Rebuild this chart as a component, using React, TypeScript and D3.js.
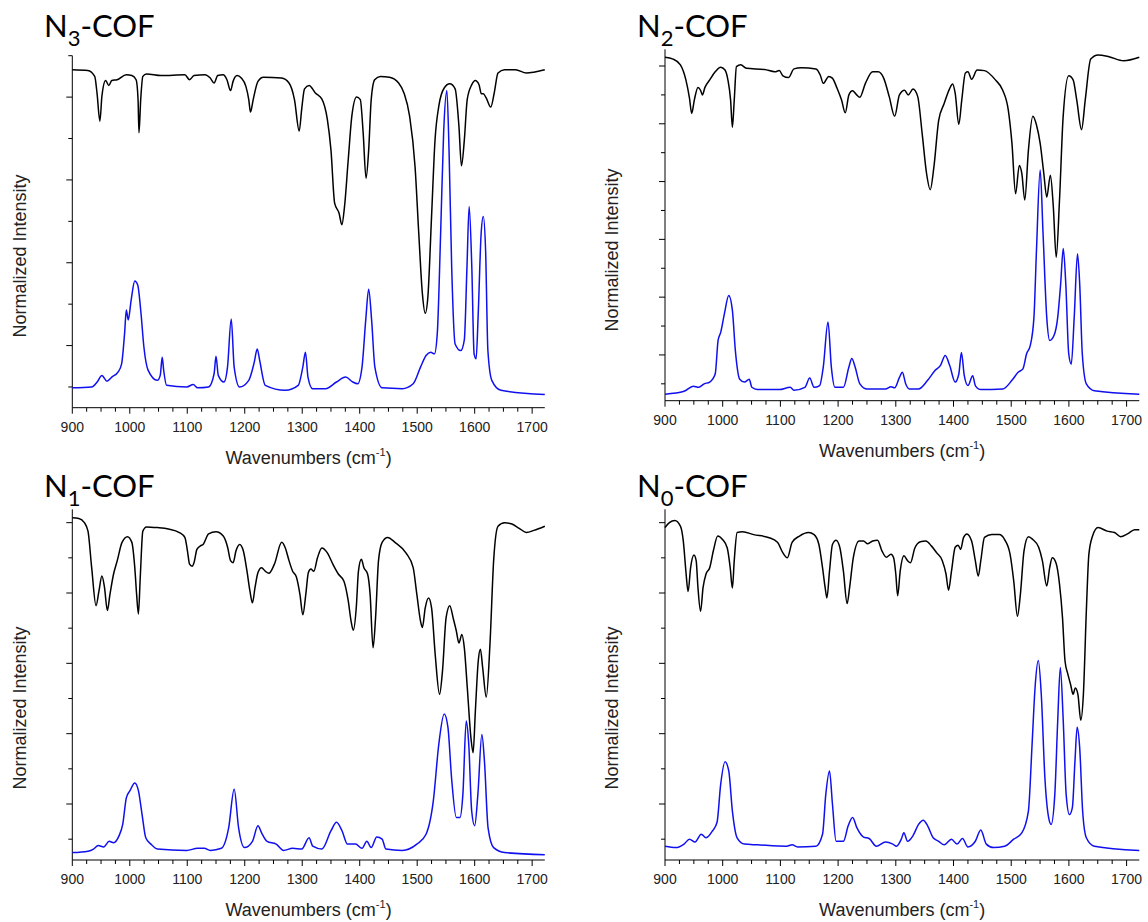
import React from "react";
import * as d3 from "d3";

type Pt = [number, number];

const X_TICKS = [900, 1000, 1100, 1200, 1300, 1400, 1500, 1600, 1700];
const X_DOMAIN: [number, number] = [900, 1722];
const TITLES = ["N", "N", "N", "N"];
const TITLE_SUBS = ["3", "2", "1", "0"];
const TITLE_TAIL = "-COF";
const X_LABEL = "Wavenumbers (cm";
const X_LABEL_SUP = "-1";
const Y_LABEL = "Normalized Intensity";

// N3-COF experimental (black)
const N3_EXP: Pt[] = [
  [900, 4.33], [927, 4.32], [939, 4.25], [943, 4.05], [948, 3.71], [951.5, 4.01], [958, 4.2], [963.5, 4.14],
  [968.7, 4.2], [978, 4.21], [994, 4.27], [1003.6, 4.26], [1011, 4.21], [1014.4, 3.97], [1016, 3.57], [1019, 3.97],
  [1022.7, 4.25], [1029, 4.28], [1054.5, 4.26], [1095.8, 4.27], [1104, 4.21], [1111.7, 4.26], [1130.8, 4.27],
  [1140, 4.23], [1146.7, 4.17], [1153, 4.26], [1162.6, 4.27], [1169, 4.21], [1175.3, 4.08], [1179.7, 4.19],
  [1186.7, 4.26], [1194, 4.23], [1202, 4.13], [1207, 3.97], [1210, 3.82], [1214.7, 3.97], [1223, 4.19],
  [1232.5, 4.24], [1264, 4.23], [1277, 4.17], [1286.5, 3.97], [1294.8, 3.59], [1299, 3.85], [1304, 4.1],
  [1312, 4.14], [1322.8, 4.05], [1334, 3.98], [1343.7, 3.73], [1350, 3.36], [1356.4, 2.72], [1364, 2.6],
  [1369, 2.46], [1373.6, 2.68], [1380, 3.24], [1386.3, 3.77], [1394.6, 4.0], [1401, 3.97], [1406, 3.57],
  [1411, 3.02], [1415.6, 3.36], [1420, 3.97], [1426, 4.21], [1436, 4.25], [1451.8, 4.24], [1467.7, 4.17],
  [1477, 4.05], [1486.8, 3.77], [1496.3, 3.16], [1502.7, 2.36], [1509, 1.63], [1514, 1.39], [1518.6, 1.59],
  [1525, 2.56], [1531, 3.48], [1537.6, 3.89], [1547, 4.11], [1556.7, 4.16], [1566, 4.1], [1572.6, 3.65],
  [1577, 3.17], [1582, 3.48], [1587, 3.97], [1595, 4.15], [1601, 4.2], [1607.6, 4.15], [1611.6, 4.04],
  [1615, 4.04], [1620, 3.99], [1628, 3.88], [1634, 4.05], [1640.6, 4.29], [1652, 4.33], [1671, 4.33],
  [1690, 4.29], [1703, 4.3], [1722, 4.33],
];

// N3-COF calculated (blue)
const N3_CALC: Pt[] = [
  [900, 0.49], [933.7, 0.5], [943.2, 0.56], [951.5, 0.64], [960.4, 0.57], [968.7, 0.62], [979.5, 0.68],
  [985.8, 0.78], [991, 1.15], [994, 1.43], [997.3, 1.31], [1002.4, 1.55], [1008.7, 1.78], [1013.8, 1.73],
  [1019.5, 1.39], [1024.6, 0.98], [1032, 0.7], [1048, 0.58], [1053, 0.64], [1056.4, 0.86], [1059, 0.7],
  [1064, 0.52], [1099, 0.5], [1110.4, 0.53], [1118, 0.49], [1137, 0.5], [1146.7, 0.66], [1150, 0.87],
  [1154, 0.64], [1163.8, 0.56], [1170, 0.74], [1176.5, 1.32], [1181.6, 0.74], [1191, 0.5], [1207, 0.58],
  [1216.6, 0.8], [1221.7, 0.96], [1226, 0.82], [1235.7, 0.52], [1270.6, 0.46], [1293, 0.52], [1301, 0.74],
  [1305.6, 0.92], [1310, 0.62], [1318, 0.48], [1340.6, 0.48], [1359.6, 0.56], [1375.5, 0.62], [1388, 0.56],
  [1396.5, 0.54], [1404, 0.74], [1410.5, 1.31], [1415.6, 1.68], [1420.7, 1.31], [1426.4, 0.74], [1439, 0.49],
  [1474, 0.48], [1493, 0.54], [1505.8, 0.74], [1515.4, 0.88], [1523.6, 0.92], [1530, 0.9], [1535, 1.15],
  [1540.8, 2.36], [1546, 3.57], [1551.6, 4.08], [1555.4, 3.36], [1560, 1.95], [1566, 1.02], [1575.8, 0.94],
  [1582, 1.07], [1586.6, 1.95], [1590.4, 2.68], [1595, 1.95], [1599, 0.9], [1602.5, 0.84], [1606, 1.35],
  [1611.3, 2.36], [1615, 2.56], [1619, 2.15], [1623, 0.94], [1629.8, 0.58], [1645.7, 0.46], [1722, 0.41],
];

// N2-COF experimental (black)
const N2_EXP: Pt[] = [
  [900, 6.15], [914, 6.12], [926.7, 6.02], [936.2, 5.76], [942.5, 5.44], [946.3, 5.18], [950.8, 5.41],
  [957.1, 5.63], [961.6, 5.58], [964.8, 5.5], [969.2, 5.63], [977.5, 5.76], [987, 5.9], [996.5, 5.98],
  [1004, 5.93], [1009, 5.76], [1013.7, 5.41], [1016.8, 4.94], [1020, 5.41], [1023.8, 5.99], [1031.4, 6.02],
  [1041, 5.96], [1072.7, 5.94], [1090.5, 5.9], [1098, 5.92], [1104.4, 5.83], [1114, 5.8], [1123.5, 5.95],
  [1136.2, 5.97], [1161.6, 5.95], [1169.2, 5.84], [1174.3, 5.7], [1183.8, 5.82], [1190, 5.79], [1198.4, 5.61],
  [1206, 5.41], [1212.4, 5.19], [1218.7, 5.5], [1225, 5.57], [1231.4, 5.51], [1237.7, 5.46], [1247.3, 5.7],
  [1260, 5.9], [1269.5, 5.9], [1279, 5.79], [1288.6, 5.47], [1298, 5.13], [1306.3, 5.5], [1315.2, 5.58],
  [1321.6, 5.5], [1329.8, 5.6], [1338, 5.47], [1345.7, 4.83], [1353.3, 4.14], [1359.7, 3.86], [1366, 4.25],
  [1374.3, 5.06], [1383.8, 5.35], [1393.3, 5.61], [1398.4, 5.69], [1402.9, 5.53], [1409.2, 4.99],
  [1414.3, 5.41], [1420.6, 5.88], [1425, 5.9], [1431.4, 5.77], [1440.9, 5.93], [1453.6, 5.92], [1472.6, 5.76],
  [1485.3, 5.58], [1494.9, 5.24], [1501.3, 4.66], [1507.6, 3.79], [1514, 4.28], [1518.4, 4.14], [1523.5, 3.68],
  [1529.8, 4.54], [1537.5, 5.13], [1543.8, 4.98], [1550.2, 4.66], [1556.5, 4.14], [1561.6, 3.73],
  [1567.9, 4.11], [1573, 3.56], [1578, 2.69], [1583.7, 3.68], [1590, 5.12], [1599.6, 5.83], [1607.3, 5.76],
  [1613.6, 5.41], [1621.9, 4.9], [1628.3, 5.41], [1637.8, 6.12], [1650.5, 6.19], [1669.5, 6.16],
  [1694.9, 6.09], [1722, 6.15],
];

// N2-COF calculated (blue)
const N2_CALC: Pt[] = [
  [900, 0.32], [933, 0.37], [948.9, 0.46], [958.4, 0.44], [968, 0.5], [977.5, 0.53], [987, 0.67], [992, 1.25],
  [996.5, 1.39], [1002.9, 1.71], [1010.5, 2.03], [1016.8, 1.77], [1021.9, 1.08], [1029.5, 0.58], [1037.8, 0.53],
  [1046, 0.58], [1050.5, 0.44], [1060, 0.4], [1098, 0.4], [1117, 0.44], [1123.5, 0.39], [1142.5, 0.44],
  [1150.8, 0.6], [1158.4, 0.44], [1168, 0.47], [1174.3, 0.79], [1182.5, 1.57], [1188.3, 0.79], [1194.6, 0.44],
  [1209.2, 0.44], [1218.7, 0.79], [1223.8, 0.94], [1229.5, 0.79], [1237.7, 0.5], [1250.5, 0.41], [1282.2, 0.41],
  [1291.7, 0.45], [1298, 0.43], [1306.3, 0.61], [1311.4, 0.7], [1317.1, 0.5], [1323.5, 0.41], [1339.4, 0.41],
  [1355.2, 0.56], [1367.9, 0.73], [1377.5, 0.82], [1385.7, 0.99], [1393.3, 0.82], [1402.9, 0.53],
  [1409.2, 0.67], [1413.7, 1.04], [1418.7, 0.64], [1425, 0.47], [1433.3, 0.64], [1437.8, 0.47], [1447.3, 0.4],
  [1485.3, 0.41], [1501.3, 0.56], [1512, 0.7], [1520.3, 0.76], [1526.7, 1.02], [1533, 1.16], [1539.4, 1.65],
  [1543.8, 2.81], [1550.2, 4.2], [1555.2, 3.1], [1561.6, 1.65], [1566.7, 1.25], [1574.3, 1.34], [1580.6, 1.65],
  [1585.7, 2.23], [1590.2, 2.84], [1594.6, 2.23], [1599.7, 1.02], [1604.1, 0.84], [1609.2, 1.65],
  [1614.9, 2.75], [1618.7, 2.23], [1623.2, 1.02], [1630.2, 0.5], [1644.1, 0.38], [1722, 0.32],
];

// N1-COF experimental (black)
const N1_EXP: Pt[] = [
  [900, 5.07], [911.4, 5.06], [921, 5.0], [927.3, 4.88], [933.7, 4.36], [941.3, 3.82], [946.4, 4.03],
  [951.5, 4.24], [956, 4.08], [961, 3.75], [965.5, 3.98], [971.8, 4.27], [978.2, 4.46], [986.5, 4.72], [996, 4.8],
  [1003.6, 4.72], [1008.7, 4.36], [1011.9, 3.98], [1015, 3.7], [1018.2, 4.22], [1022.7, 4.88], [1029, 4.94],
  [1048, 4.93], [1067.2, 4.91], [1086.3, 4.86], [1095.8, 4.79], [1100.3, 4.6], [1104, 4.41], [1108.5, 4.38],
  [1111.7, 4.43], [1116.8, 4.62], [1123, 4.67], [1127.6, 4.69], [1137.1, 4.84], [1150, 4.87], [1162.6, 4.81],
  [1170.2, 4.65], [1175.3, 4.46], [1179.7, 4.43], [1184.8, 4.6], [1191.2, 4.69], [1197.5, 4.6], [1203.9, 4.31],
  [1209, 4.03], [1213.4, 3.86], [1217.9, 4.08], [1223, 4.29], [1229.3, 4.36], [1235.7, 4.31], [1242, 4.28],
  [1251.6, 4.41], [1264.3, 4.72], [1270.6, 4.64], [1277, 4.46], [1283.3, 4.31], [1289.7, 4.23], [1296, 3.98],
  [1301.1, 3.69], [1306.2, 3.98], [1310.7, 4.29], [1315.1, 4.34], [1320.2, 4.31], [1326.5, 4.5], [1334.2, 4.64],
  [1343.7, 4.57], [1353.3, 4.41], [1362.8, 4.27], [1372.4, 4.17], [1380, 3.89], [1385, 3.6], [1388.9, 3.47],
  [1394, 3.79], [1397.8, 4.31], [1402.9, 4.48], [1407.3, 4.36], [1413.7, 4.27], [1418.1, 3.98], [1423.2, 3.22],
  [1427.6, 3.65], [1432.7, 4.46], [1439, 4.72], [1448.6, 4.79], [1461.3, 4.72], [1480.4, 4.57], [1493, 4.36],
  [1499.4, 3.98], [1505.8, 3.6], [1509, 3.51], [1514, 3.79], [1519.8, 3.93], [1525, 3.79], [1531.3, 3.13],
  [1538.9, 2.56], [1544, 2.89], [1550.3, 3.65], [1556.7, 3.82], [1563, 3.63], [1568.1, 3.46], [1572.6, 3.29],
  [1577.7, 3.41], [1582, 3.22], [1587.2, 2.65], [1593.5, 1.94], [1597.3, 1.73], [1601.2, 2.32], [1606.2, 3.03],
  [1610, 3.2], [1613.9, 2.94], [1620.2, 2.52], [1626.6, 3.27], [1633, 4.46], [1640.6, 4.95], [1652, 5.0],
  [1664.8, 4.98], [1677.5, 4.92], [1690.2, 4.86], [1703, 4.89], [1722, 4.95],
];

// N1-COF calculated (blue)
const N1_CALC: Pt[] = [
  [900, 0.31], [927.3, 0.33], [936.9, 0.36], [945.1, 0.41], [954.7, 0.39], [964.2, 0.47], [971.8, 0.45],
  [981.4, 0.55], [987.7, 0.71], [994.1, 1.09], [1000.4, 1.19], [1008.7, 1.3], [1015, 1.19], [1021.4, 0.85],
  [1027.8, 0.52], [1036.7, 0.43], [1048, 0.36], [1099, 0.34], [1118, 0.37], [1129.5, 0.37], [1140.3, 0.34],
  [1159.4, 0.37], [1172, 0.66], [1181.6, 1.21], [1189.3, 0.66], [1199.4, 0.38], [1213.4, 0.47], [1223, 0.69],
  [1229.3, 0.59], [1238.8, 0.47], [1254.7, 0.43], [1267.5, 0.34], [1283.3, 0.37], [1299.2, 0.36],
  [1311.9, 0.52], [1318.3, 0.4], [1334.2, 0.36], [1350.1, 0.62], [1359.6, 0.74], [1369.2, 0.62], [1378.7, 0.43],
  [1392.7, 0.43], [1404.1, 0.37], [1412.4, 0.47], [1420, 0.38], [1429.6, 0.53], [1439, 0.5], [1445.5, 0.36],
  [1474, 0.34], [1499.4, 0.43], [1515.4, 0.57], [1528, 1.04], [1537.6, 1.85], [1547, 2.28], [1553.5, 2.09],
  [1559.8, 1.37], [1568.1, 0.81], [1574.5, 0.81], [1579.5, 1.14], [1585.3, 2.18], [1589.7, 1.85], [1594.8, 0.9],
  [1600, 0.69], [1605.6, 1.14], [1612.5, 1.99], [1617, 1.61], [1623.3, 0.66], [1633, 0.38], [1652, 0.31],
  [1722, 0.28],
];

// N0-COF experimental (black)
const N0_EXP: Pt[] = [
  [900, 4.93], [907.6, 5.0], [917.1, 5.03], [926.7, 4.95], [931.7, 4.74], [936.2, 4.31], [940, 4.02],
  [944.4, 4.36], [950.2, 4.54], [954, 4.46], [957.1, 4.08], [961.6, 3.74], [966, 4.08], [971.1, 4.27],
  [977.5, 4.36], [983.8, 4.6], [991.4, 4.81], [999.7, 4.76], [1007.9, 4.64], [1013, 4.36], [1016.8, 4.07],
  [1020, 4.46], [1025, 4.86], [1034.6, 4.87], [1053.6, 4.83], [1079, 4.79], [1094.9, 4.72], [1104.4, 4.57],
  [1112, 4.5], [1120.3, 4.72], [1133, 4.81], [1148.9, 4.86], [1158.4, 4.83], [1166.7, 4.69], [1173, 4.36],
  [1177.5, 4.08], [1180.6, 3.93], [1185.1, 4.31], [1190.2, 4.69], [1196.5, 4.75], [1202.9, 4.65],
  [1209.2, 4.31], [1215.6, 3.85], [1220, 4.08], [1226.3, 4.5], [1236.5, 4.74], [1244.1, 4.74], [1250.5, 4.7],
  [1260, 4.74], [1268.3, 4.75], [1275.9, 4.6], [1283.5, 4.51], [1291.7, 4.55], [1296.2, 4.5], [1300, 4.27],
  [1303.2, 3.96], [1307.6, 4.31], [1314, 4.53], [1320.3, 4.46], [1325.4, 4.43], [1333, 4.64], [1342.5, 4.73],
  [1352, 4.74], [1361.6, 4.67], [1371, 4.57], [1380.6, 4.46], [1387, 4.27], [1391.4, 4.04], [1396.5, 4.31],
  [1402.9, 4.65], [1408, 4.68], [1412.4, 4.62], [1417.5, 4.79], [1423.2, 4.84], [1431.4, 4.74], [1437.8, 4.46],
  [1442.9, 4.24], [1447.3, 4.46], [1453.7, 4.79], [1466.3, 4.83], [1479, 4.83], [1488.6, 4.76], [1498.1, 4.55],
  [1504.4, 4.17], [1510.8, 3.67], [1515.9, 3.98], [1522.2, 4.6], [1529.8, 4.8], [1537.5, 4.76], [1547.6, 4.65],
  [1554, 4.46], [1561.6, 4.1], [1566.7, 4.36], [1571.1, 4.5], [1577.5, 4.43], [1583.8, 4.12], [1588.9, 3.65],
  [1593.3, 3.03], [1598.4, 2.84], [1602.9, 2.7], [1607.3, 2.56], [1611.1, 2.65], [1615.6, 2.56], [1620.6, 2.19],
  [1625.1, 2.56], [1630.2, 3.74], [1634.6, 4.55], [1641, 4.81], [1650.5, 4.93], [1666.3, 4.88], [1679, 4.86],
  [1689.8, 4.8], [1701.3, 4.84], [1714, 4.9], [1722, 4.9],
];

// N0-COF calculated (blue)
const N0_CALC: Pt[] = [
  [900, 0.4], [919, 0.38], [933, 0.43], [942.5, 0.5], [952, 0.46], [962.9, 0.57], [971.1, 0.52], [982.5, 0.62],
  [990.2, 0.74], [996.5, 1.28], [1004.1, 1.6], [1010.5, 1.47], [1016.8, 0.9], [1025, 0.52], [1037.8, 0.43],
  [1060, 0.42], [1110.8, 0.4], [1120.3, 0.42], [1129.8, 0.39], [1161.6, 0.4], [1173, 0.57], [1178.7, 1.14],
  [1185.1, 1.47], [1190.2, 1.0], [1196.5, 0.47], [1209.2, 0.47], [1217.5, 0.69], [1225.1, 0.81], [1232.7, 0.66],
  [1244.1, 0.53], [1253.7, 0.51], [1266.3, 0.4], [1282.2, 0.46], [1294.9, 0.43], [1301.3, 0.4], [1309.5, 0.5],
  [1314, 0.59], [1320.3, 0.47], [1329.8, 0.55], [1339.4, 0.71], [1347.6, 0.77], [1355.2, 0.69], [1364.8, 0.52],
  [1374.3, 0.47], [1383.8, 0.42], [1396.5, 0.5], [1406, 0.43], [1415.6, 0.51], [1425, 0.39], [1437.8, 0.47],
  [1447.3, 0.63], [1456.8, 0.43], [1469.5, 0.38], [1488.6, 0.4], [1504.4, 0.5], [1518.4, 0.59], [1529.8, 0.9],
  [1536.2, 1.85], [1541.3, 2.65], [1547, 3.04], [1552.1, 2.56], [1558.4, 1.37], [1564.8, 0.81], [1569.2, 0.71],
  [1575.6, 1.14], [1580.6, 2.18], [1585.1, 2.94], [1590.2, 2.18], [1595.2, 1.14], [1600.9, 0.85], [1606, 0.95],
  [1610.5, 1.61], [1614.3, 2.09], [1618.7, 1.8], [1623.8, 0.9], [1630.2, 0.52], [1644.1, 0.4], [1722, 0.34],
];

const EXP_SERIES = [N3_EXP, N2_EXP, N1_EXP, N0_EXP];
const CALC_SERIES = [N3_CALC, N2_CALC, N1_CALC, N0_CALC];
const Y_DOMAINS: [number, number][] = [[0.25, 4.5], [0.208, 6.289], [0.204, 5.19], [0.204, 5.19]];
const Y_MAJOR_MAX = [4, 6, 5, 5];

// layout (pixel positions of each panel)
const LAYOUT = [
  { left: 72.3, right: 544.8, top: 55.7, bottom: 407.7, titleX: 44, titleY: 36.7, yLabelX: 20, yLabelY: 256 },
  { left: 665, right: 1139.3, top: 49.3, bottom: 400.7, titleX: 637, titleY: 36.7, yLabelX: 612, yLabelY: 250 },
  { left: 72.3, right: 544.8, top: 509.3, bottom: 860, titleX: 44, titleY: 497, yLabelX: 20, yLabelY: 708 },
  { left: 665, right: 1139.3, top: 509.3, bottom: 860, titleX: 637, titleY: 497, yLabelX: 612, yLabelY: 708 },
];

const TICK_FONT = "'Liberation Sans', Arial, sans-serif";

function Panel({ i }: { i: number }) {
  const L = LAYOUT[i];
  const x = d3.scaleLinear().domain(X_DOMAIN).range([L.left, L.right]);
  const y = d3.scaleLinear().domain(Y_DOMAINS[i]).range([L.bottom, L.top]);
  const line = d3
    .line<Pt>()
    .x((d) => x(d[0]))
    .y((d) => y(d[1]))
    .curve(d3.curveMonotoneX);
  const xMinor = d3.range(X_DOMAIN[0], X_DOMAIN[1], 25).filter((v) => v % 100 !== 0);
  const yMajor = d3.range(1, Y_MAJOR_MAX[i] + 0.001, 1);
  const yMinor = d3.range(0.5, Y_DOMAINS[i][1] + 0.001, 1);
  const cx = (L.left + L.right) / 2;
  return (
    <g>
      <text x={L.titleX} y={L.titleY} fontFamily="Lato, 'Open Sans', sans-serif" fontSize={31} fill="#000">
        {TITLES[i]}
        <tspan fontSize={22} dy={9}>{TITLE_SUBS[i]}</tspan>
        <tspan fontSize={31} dy={-9}>{TITLE_TAIL}</tspan>
      </text>
      {/* axes */}
      <line x1={L.left} x2={L.left} y1={L.top} y2={L.bottom} stroke="#000" strokeWidth={1} />
      <line x1={L.left} x2={L.right} y1={L.bottom} y2={L.bottom} stroke="#000" strokeWidth={1} />
      {X_TICKS.map((t) => (
        <g key={"xt" + t}>
          <line x1={x(t)} x2={x(t)} y1={L.bottom} y2={L.bottom + 6} stroke="#000" />
          <text x={x(t)} y={L.bottom + 24} textAnchor="middle" fontFamily={TICK_FONT} fontSize={14} fill="#222">
            {t}
          </text>
        </g>
      ))}
      {xMinor.map((t) => (
        <line key={"xm" + t} x1={x(t)} x2={x(t)} y1={L.bottom} y2={L.bottom + 4} stroke="#000" />
      ))}
      {yMajor.map((t) => (
        <line key={"ym" + t} x1={L.left - 6} x2={L.left} y1={y(t)} y2={y(t)} stroke="#000" />
      ))}
      {yMinor.map((t) => (
        <line key={"yn" + t} x1={L.left - 4} x2={L.left} y1={y(t)} y2={y(t)} stroke="#000" />
      ))}
      <text x={cx} y={L.bottom + 56} textAnchor="middle" fontFamily={TICK_FONT} fontSize={18} fill="#222">
        {X_LABEL}
        <tspan fontSize={11} dy={-8}>{X_LABEL_SUP}</tspan>
        <tspan fontSize={18} dy={8}>)</tspan>
      </text>
      <text
        transform={`translate(${L.yLabelX},${L.yLabelY}) rotate(-90)`}
        textAnchor="middle"
        dy={6}
        fontFamily={TICK_FONT}
        fontSize={18}
        fill="#222"
      >
        {Y_LABEL}
      </text>
      <path d={line(EXP_SERIES[i]) || ""} fill="none" stroke="#000" strokeWidth={1.5} strokeLinejoin="round" />
      <path d={line(CALC_SERIES[i]) || ""} fill="none" stroke="#1010ee" strokeWidth={1.5} strokeLinejoin="round" />
    </g>
  );
}

export default function App() {
  return (
    <svg
      width={1148}
      height={922}
      style={{ position: "absolute", left: 0, top: 0, display: "block", background: "#fff" }}
    >
      <rect width={1148} height={922} fill="#fff" />
      {[0, 1, 2, 3].map((i) => (
        <Panel key={i} i={i} />
      ))}
    </svg>
  );
}
